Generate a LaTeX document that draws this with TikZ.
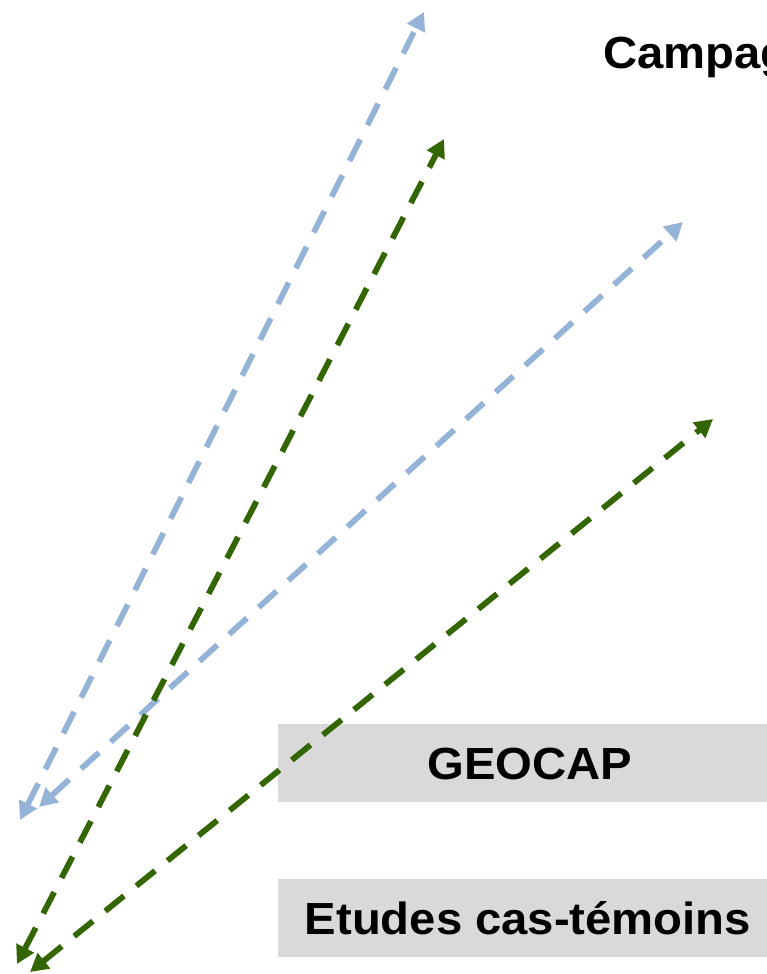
\documentclass[tikz,border=0pt]{standalone}
\usepackage{fontspec}
\setmainfont{Liberation Sans}
\usetikzlibrary{arrows.meta}
\definecolor{lblue}{HTML}{95B3D7}
\definecolor{dgreen}{HTML}{336600}
\definecolor{boxgray}{HTML}{D9D9D9}
\newcommand{\wide}[1]{\scalebox{1.05}[1]{#1}}
\begin{document}
\begin{tikzpicture}[x=1pt,y=-1pt,
  conn/.style={line width=5.8pt, dash pattern=on 24pt off 16pt,
    {Triangle[length=18pt,width=19pt]}-{Triangle[length=18pt,width=19pt]}},
  lbl/.style={font=\fontsize{45}{53}\selectfont\bfseries, inner sep=0pt},
  graybox/.style={fill=boxgray, minimum width=502pt, minimum height=78pt, inner sep=0pt}]
\useasboundingbox (0,0) rectangle (767,974);
\clip (0,0) rectangle (767,974);
% boxes
\node[graybox, anchor=north west] (geobox) at (278,724) {};
\node[graybox, anchor=north west] (etubox) at (278,879) {};
\node[lbl, anchor=base] (geocap) at (530,779) {\wide{GEOCAP}};
\node[lbl, anchor=base] (etudes) at (528,934) {\wide{Etudes cas-témoins}};
\node[lbl, anchor=base west] (campagne) at (603,69) {\wide{Campagne}};
% arrow ends
\coordinate (b1a) at (20,820);  \coordinate (b1b) at (424,12);
\coordinate (g1a) at (17,964);  \coordinate (g1b) at (444,139);
\coordinate (b2a) at (39,807);  \coordinate (b2b) at (683,222);
\coordinate (g2a) at (30,972);  \coordinate (g2b) at (713,419);
\draw[conn, lblue] (b1a) -- (b1b);
\draw[conn, lblue] (b2a) -- (b2b);
\draw[conn, dgreen] (g1a) -- (g1b);
\draw[conn, dgreen] (g2a) -- (g2b);
\end{tikzpicture}
\end{document}
